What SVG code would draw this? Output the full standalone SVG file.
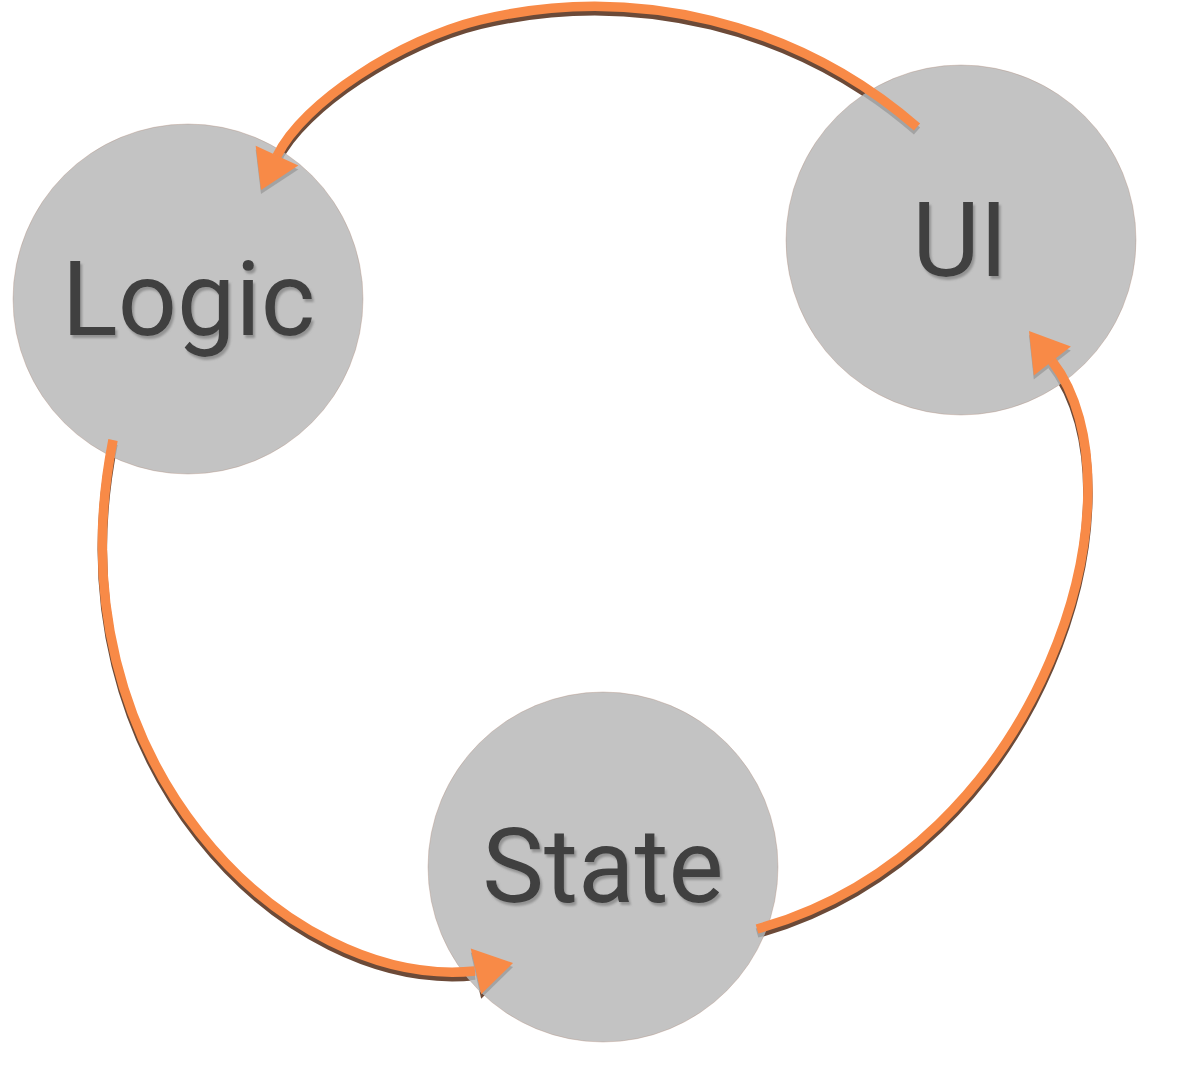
<svg xmlns="http://www.w3.org/2000/svg" xmlns:xlink="http://www.w3.org/1999/xlink" width="1204" height="1080" viewBox="0 0 1204 1080">
<style>
.node{fill:#c3c3c3;stroke:#b08a78;stroke-width:1;stroke-opacity:.35}
.lbl{font-family:Roboto,"Liberation Sans",sans-serif;font-size:104px;text-anchor:middle;fill:#404040;filter:url(#tshadow)}
.line{fill:none;stroke:#f88a47;stroke-width:9.5}
.head{fill:#f88a47}
.bline{fill:none;stroke:#6c4a38;stroke-width:9.5}
.bhead{fill:#6c4a38}
.gline{fill:none;stroke:#9e9e9e;stroke-width:9.5}
.ghead{fill:#9e9e9e}
</style>
<defs>
<filter id="tshadow" x="-10%" y="-10%" width="120%" height="130%">
<feDropShadow dx="2" dy="3" stdDeviation="0.8" flood-color="#8e8e8e" flood-opacity="0.9"/>
</filter>
<path id="head" d="M0,0 L-38,-23.5 L-38,23.5 Z"/>
<path id="c-ui-logic" d="M917,127 A491,491 0 0 0 480,20 C402,39 303,102 277,156"/>
<path id="c-logic-state" d="M113,440 C49,760 287,990 475,971"/>
<path id="c-state-ui" d="M757,929 C1046,848 1150,487 1052,361"/>
<clipPath id="inNodes">
<circle cx="188" cy="299" r="175"/>
<circle cx="961" cy="240" r="175"/>
<circle cx="603" cy="867" r="175"/>
</clipPath>
</defs>
<rect width="1204" height="1080" fill="#ffffff"/>
<g id="connector-shadows" transform="translate(0,4.5)">
<use xlink:href="#c-ui-logic" class="bline"/>
<use xlink:href="#c-logic-state" class="bline"/>
<use xlink:href="#c-state-ui" class="bline"/>
<use xlink:href="#head" class="bhead" transform="translate(261,190) rotate(114.9)"/>
<use xlink:href="#head" class="bhead" transform="translate(513,963) rotate(-12.8)"/>
<use xlink:href="#head" class="bhead" transform="translate(1029,331) rotate(-127.9)"/>
</g>
<g id="node-logic">
<circle class="node" cx="188" cy="299" r="175"/>
<text class="lbl" x="188.5" y="335">Logic</text>
</g>
<g id="node-ui">
<circle class="node" cx="961" cy="240" r="175"/>
<text class="lbl" x="960" y="276">UI</text>
</g>
<g id="node-state">
<circle class="node" cx="603" cy="867" r="175"/>
<text class="lbl" x="603" y="902">State</text>
</g>
<g id="connectors">
<g clip-path="url(#inNodes)">
<g transform="translate(0,4)" opacity="0.85">
<use xlink:href="#c-ui-logic" class="gline"/>
<use xlink:href="#c-logic-state" class="gline"/>
<use xlink:href="#c-state-ui" class="gline"/>
<use xlink:href="#head" class="ghead" transform="translate(261,190) rotate(114.9)"/>
<use xlink:href="#head" class="ghead" transform="translate(513,963) rotate(-12.8)"/>
<use xlink:href="#head" class="ghead" transform="translate(1029,331) rotate(-127.9)"/>
</g>
</g>
<use xlink:href="#c-ui-logic" class="line"/>
<use xlink:href="#c-logic-state" class="line"/>
<use xlink:href="#c-state-ui" class="line"/>
<use xlink:href="#head" class="head" transform="translate(261,190) rotate(114.9)"/>
<use xlink:href="#head" class="head" transform="translate(513,963) rotate(-12.8)"/>
<use xlink:href="#head" class="head" transform="translate(1029,331) rotate(-127.9)"/>
</g>
</svg>
